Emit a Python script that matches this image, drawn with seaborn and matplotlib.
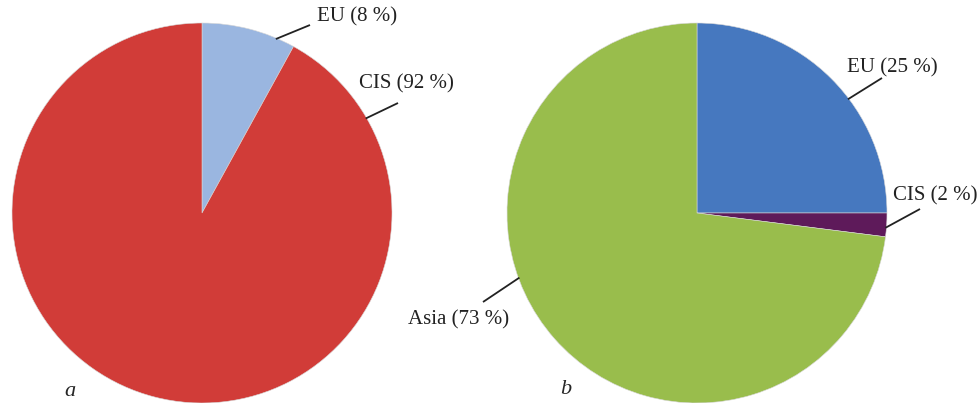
import numpy as np
import matplotlib
matplotlib.use("Agg")
import matplotlib.pyplot as plt
import seaborn as sns

# data
left_labels = ["EU", "CIS"]
left_shares = [8, 92]
left_colors = ["#9AB6E0", "#D13C38"]

right_labels = ["EU", "CIS", "Asia"]
right_shares = [25, 2, 73]
right_colors = ["#4678BF", "#5E1A5A", "#99BD4C"]

sns.set_theme(style="white")
plt.rcParams['font.family'] = ['Liberation Serif', 'DejaVu Serif']

W, H = 979, 403
fig = plt.figure(figsize=(W / 100, H / 100), dpi=100)
ax = fig.add_axes([0, 0, 1, 1])

R = 190


def draw_pie(center, shares, colors, labels, anchors, line_ends, text_pos):
    ax.pie(shares, colors=colors, startangle=90, counterclock=False,
           center=center, radius=R, frame=True,
           wedgeprops=dict(linewidth=0.4, edgecolor="#d8d8d8"))
    for lab, share, ang, (ex, ey), (tx, ty) in zip(labels, shares, anchors, line_ends, text_pos):
        a = np.deg2rad(ang)
        px = center[0] + (R - 1) * np.cos(a)
        py = center[1] + (R - 1) * np.sin(a)
        ax.plot([px, ex], [py, H - ey], color="#222222", lw=1.3, solid_capstyle='butt')
        ax.text(tx, H - ty, f"{lab} ({share} %)", ha='left', va='center',
                fontsize=15, color="#222222")


# left pie (a)
draw_pie((202, H - 213), left_shares, left_colors, left_labels,
         anchors=[67, 30],
         line_ends=[(310, 25), (398, 103)],
         text_pos=[(317, 17), (359, 84)])

# right pie (b)
draw_pie((697, H - 213), right_shares, right_colors, right_labels,
         anchors=[37, -4.5, 200],
         line_ends=[(882, 78), (920, 209), (483, 302)],
         text_pos=[(847, 68), (893, 196), (408, 320)])

ax.set_xlim(0, W)
ax.set_ylim(0, H)
ax.set_aspect('equal')
ax.axis('off')

ax.text(70, H - 392, "a", fontsize=16, style='italic', ha='center', va='center')
ax.text(566, H - 390, "b", fontsize=16, style='italic', ha='center', va='center')

fig.savefig("out.png", dpi=100)
